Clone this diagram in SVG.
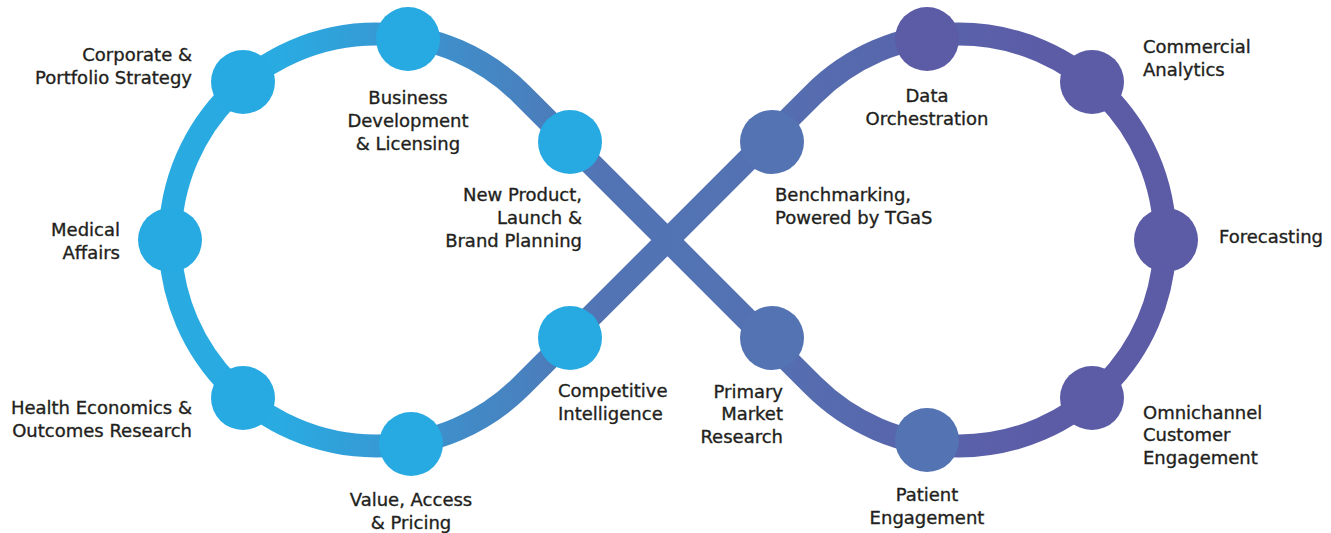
<svg xmlns="http://www.w3.org/2000/svg" width="1331" height="533" viewBox="0 0 1331 533">
<style>
.lbl{font-family:"DejaVu Sans","Liberation Sans",sans-serif;font-size:18px;fill:#231F20;stroke:#231F20;stroke-width:0.35}
.e{text-anchor:end}.m{text-anchor:middle}.s{text-anchor:start}
.blue{fill:#27AAE1}.steel{fill:#5373B3}.purple{fill:#5C5BA6}
</style>
<defs>
<linearGradient id="g" gradientUnits="userSpaceOnUse" x1="0" y1="0" x2="1331" y2="0">
<stop offset="0.21" stop-color="#29ABE2"/>
<stop offset="0.45" stop-color="#5274B4"/>
<stop offset="0.54" stop-color="#5373B3"/>
<stop offset="0.79" stop-color="#5C5BA6"/>
</linearGradient>
</defs>
<rect width="1331" height="533" fill="#fff"/>
<g id="connectors">
<path d="M667.5 240 L521.7 94.3 A206 206 0 1 0 521.7 385.7 L813.3 94.3 A206 206 0 1 1 813.3 385.7 Z" fill="none" stroke="url(#g)" stroke-width="23" stroke-linejoin="round"/>
</g>
<g id="corporate"><circle class="blue" cx="243" cy="82" r="32"/><text class="lbl e" x="192" y="61">Corporate &amp;</text><text class="lbl e" x="192" y="84">Portfolio Strategy</text></g>
<g id="business"><circle class="blue" cx="408" cy="39" r="32"/><text class="lbl m" x="408" y="104">Business</text><text class="lbl m" x="408" y="127">Development</text><text class="lbl m" x="408" y="150">&amp; Licensing</text></g>
<g id="newproduct"><circle class="blue" cx="570" cy="142" r="32"/><text class="lbl e" x="582" y="201">New Product,</text><text class="lbl e" x="582" y="224">Launch &amp;</text><text class="lbl e" x="582" y="247">Brand Planning</text></g>
<g id="medical"><circle class="blue" cx="170" cy="240" r="32"/><text class="lbl e" x="120" y="236">Medical</text><text class="lbl e" x="120" y="259">Affairs</text></g>
<g id="health"><circle class="blue" cx="243" cy="398" r="32"/><text class="lbl e" x="192" y="414">Health Economics &amp;</text><text class="lbl e" x="192" y="437">Outcomes Research</text></g>
<g id="value"><circle class="blue" cx="411" cy="444" r="32"/><text class="lbl m" x="411" y="506">Value, Access</text><text class="lbl m" x="411" y="529">&amp; Pricing</text></g>
<g id="competitive"><circle class="blue" cx="570" cy="338" r="32"/><text class="lbl s" x="558" y="397">Competitive</text><text class="lbl s" x="558" y="420">Intelligence</text></g>
<g id="benchmarking"><circle class="steel" cx="772" cy="142" r="32"/><text class="lbl s" x="775" y="201">Benchmarking,</text><text class="lbl s" x="775" y="224">Powered by TGaS</text></g>
<g id="data"><circle class="purple" cx="927" cy="39" r="32"/><text class="lbl m" x="927" y="102">Data</text><text class="lbl m" x="927" y="125">Orchestration</text></g>
<g id="commercial"><circle class="purple" cx="1092" cy="82" r="32"/><text class="lbl s" x="1143" y="53">Commercial</text><text class="lbl s" x="1143" y="76">Analytics</text></g>
<g id="forecasting"><circle class="purple" cx="1166" cy="240" r="32"/><text class="lbl s" x="1219" y="243">Forecasting</text></g>
<g id="omnichannel"><circle class="purple" cx="1092" cy="398" r="32"/><text class="lbl s" x="1143" y="419">Omnichannel</text><text class="lbl s" x="1143" y="441">Customer</text><text class="lbl s" x="1143" y="464">Engagement</text></g>
<g id="patient"><circle class="steel" cx="927" cy="440" r="32"/><text class="lbl m" x="927" y="501">Patient</text><text class="lbl m" x="927" y="524">Engagement</text></g>
<g id="primary"><circle class="steel" cx="772" cy="338" r="32"/><text class="lbl e" x="783" y="398">Primary</text><text class="lbl e" x="783" y="420">Market</text><text class="lbl e" x="783" y="443">Research</text></g>
</svg>
